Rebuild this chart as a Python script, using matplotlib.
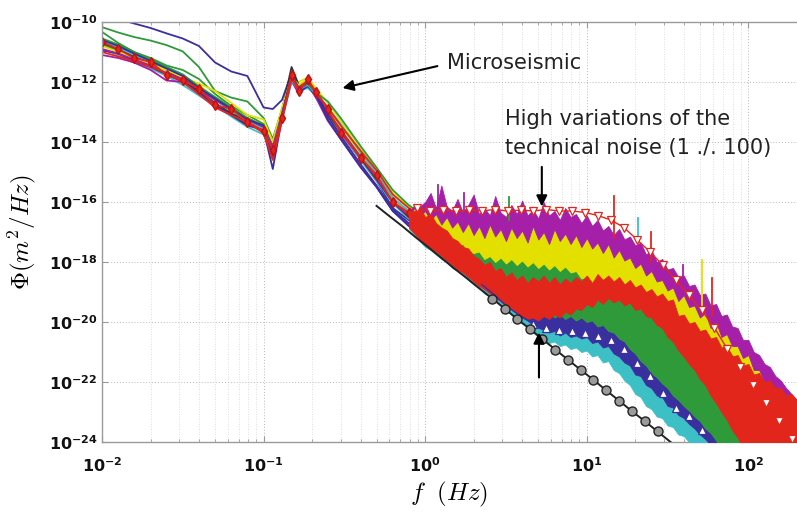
import numpy as np
import matplotlib
matplotlib.use("Agg")
import matplotlib.pyplot as plt

# ---- colours (old matlab line order, as they look in the scan)
C_IND = "#3a2f9e"
C_GRN = "#2e9a3a"
C_RED = "#e3261c"
C_CYN = "#3dbfc6"
C_MAG = "#a51fa8"
C_YEL = "#e3e000"
C_BLK = "#333333"

# ---- low frequency bundle, log10(PSD)
f_lo = [0.010, 0.0126, 0.0158, 0.020, 0.0251, 0.0316, 0.0398, 0.0501, 0.0631, 0.0794,
        0.100, 0.114, 0.130, 0.149, 0.165, 0.188, 0.210, 0.250, 0.300, 0.400,
        0.500, 0.630, 0.790, 1.000]
lo_indigo_top = [-9.7, -9.9, -10.05, -10.2, -10.38, -10.55, -10.8, -11.35, -11.65, -11.8,
                 -12.85, -12.9, -12.6, -11.7, -12.1, -12.0, -12.5, -13.1, -13.7, -14.6,
                 -15.3, -16.2, -16.6, -17.0]
lo_green_a = [-10.17, -10.35, -10.5, -10.62, -10.77, -10.98, -11.5, -12.3, -12.52, -12.65,
              -13.2, -13.9, -12.9, -11.9, -12.3, -12.1, -12.4, -13.0, -13.5, -14.4,
              -15.1, -15.9, -16.3, -16.6]
lo_green_b = [-10.33, -10.7, -11.0, -11.2, -11.45, -11.6, -11.9, -12.4, -12.8, -13.1,
              -13.4, -14.1, -13.0, -11.8, -12.25, -12.1, -12.4, -13.05, -13.65, -14.5,
              -15.2, -16.0, -16.5, -16.85]
lo_red_mk = [-10.67, -10.9, -11.2, -11.33, -11.77, -11.93, -12.23, -12.77, -12.9, -13.33,
             -13.63, -14.27, -13.2, -11.77, -12.3, -11.9, -12.33, -12.9, -13.7, -14.53,
             -15.1, -16.0, -16.35, -16.8]
lo_yellow_a = [-10.6, -10.85, -11.05, -11.3, -11.5, -11.8, -12.1, -12.55, -12.85, -13.2,
               -13.45, -14.0, -12.9, -11.9, -12.0, -11.85, -12.2, -12.7, -13.3, -14.2,
               -14.9, -15.7, -16.15, -16.5]
lo_cyan_a = [-10.9, -11.1, -11.35, -11.55, -11.8, -12.1, -12.45, -12.8, -13.15, -13.5,
             -13.75, -14.55, -13.25, -12.0, -12.3, -12.2, -12.45, -13.1, -13.7, -14.6,
             -15.3, -16.05, -16.55, -16.9]
lo_mag_a = [-11.1, -11.2, -11.35, -11.6, -11.95, -12.0, -12.4, -12.8, -13.1, -13.4,
            -13.6, -14.3, -13.2, -11.95, -12.4, -12.1, -12.5, -13.3, -13.9, -14.85,
            -15.5, -16.3, -16.75, -17.0]
lo_green_c = [-10.75, -10.95, -11.1, -11.35, -11.55, -11.85, -12.25, -12.6, -12.95, -13.35,
              -13.4, -14.2, -13.0, -11.8, -12.15, -12.05, -12.3, -12.95, -13.55, -14.5,
              -15.15, -15.95, -16.4, -16.75]
lo_black = [-10.7, -10.9, -11.15, -11.4, -11.6, -11.95, -12.3, -12.7, -13.05, -13.3,
            -13.5, -14.35, -12.95, -11.5, -12.1, -12.05, -12.4, -13.05, -13.65, -14.55,
            -15.25, -16.0, -16.5, -16.85]
lo_indigo_b = [-10.95, -11.05, -11.3, -11.5, -11.75, -12.0, -12.35, -12.75, -13.1, -13.45,
               -13.6, -14.9, -13.2, -11.7, -12.3, -12.15, -12.4, -13.25, -13.9, -14.85,
               -15.5, -16.3, -16.8, -17.1]
lo_red_b = [-11.0, -11.15, -11.3, -11.5, -11.7, -12.0, -12.4, -12.85, -13.1, -13.35,
            -13.7, -14.6, -13.3, -11.9, -12.2, -11.95, -12.35, -12.85, -13.45, -14.3,
            -14.95, -15.75, -16.2, -16.55]
lo_yellow_b = [-10.8, -11.0, -11.2, -11.4, -11.6, -11.85, -12.05, -12.3, -12.7, -13.1,
               -13.25, -14.0, -12.85, -11.85, -12.1, -11.9, -12.25, -12.9, -13.5, -14.45,
               -15.15, -15.95, -16.35, -16.7]
lo_cyan_b = [-10.65, -10.85, -11.1, -11.3, -11.5, -11.75, -12.2, -12.6, -12.95, -13.3,
             -13.55, -14.45, -13.15, -11.95, -12.25, -12.1, -12.4, -12.85, -13.4, -14.35,
             -15.05, -15.85, -16.3, -16.7]
lo_mag_b = [-10.9, -11.05, -11.25, -11.45, -11.7, -11.9, -12.25, -12.6, -12.9, -13.25,
            -13.5, -14.15, -13.05, -11.9, -12.25, -12.05, -12.35, -13.0, -13.6, -14.5,
            -15.2, -16.0, -16.45, -16.8]
lo_green_d = [-10.55, -10.75, -11.0, -11.25, -11.5, -11.75, -12.15, -12.5, -12.85, -13.2,
              -13.45, -14.4, -13.05, -11.85, -12.2, -12.05, -12.35, -12.65, -13.2, -14.15,
              -14.85, -15.6, -16.1, -16.5]
lo_indigo_c = [-10.6, -10.8, -11.05, -11.3, -11.55, -11.8, -12.2, -12.55, -12.9, -13.25,
               -13.45, -14.5, -13.1, -11.75, -12.2, -12.0, -12.3, -13.15, -13.8, -14.75,
               -15.45, -16.25, -16.7, -17.05]

# ---- high frequency part: envelopes of the dense spectra (log10 PSD)
f_hi = [0.794, 0.858, 0.926, 1.0, 1.08, 1.166, 1.259, 1.359, 1.468, 1.585,
        1.711, 1.848, 1.995, 2.154, 2.326, 2.512, 2.712, 2.929, 3.162, 3.415,
        3.687, 3.981, 4.299, 4.642, 5.012, 5.412, 5.843, 6.31, 6.813, 7.356,
        7.943, 8.577, 9.261, 10.0, 10.8, 11.66, 12.59, 13.59, 14.68, 15.85,
        17.11, 18.48, 19.95, 21.54, 23.26, 25.12, 27.12, 29.29, 31.62, 34.15,
        36.87, 39.81, 42.99, 46.42, 50.12, 54.12, 58.43, 63.1, 68.13, 73.56,
        79.43, 85.77, 92.61, 100.0, 108.0, 116.6, 125.9, 135.9, 146.8, 158.5,
        171.1, 184.8, 199.5]
bot_cyan = [-16.9, -17.1, -17.3, -17.5, -17.6, -17.75, -17.9, -18.0, -18.2, -18.3,
            -18.45, -18.6, -18.75, -18.85, -19.05, -19.15, -19.3, -19.45, -19.6, -19.75,
            -19.85, -20.05, -20.2, -20.35, -20.5, -20.6, -20.7, -20.65, -20.8, -20.75,
            -20.9, -20.85, -21.0, -20.95, -21.15, -21.1, -21.35, -21.3, -21.6, -21.7,
            -21.95, -22.1, -22.4, -22.5, -22.8, -22.9, -23.15, -23.2, -23.45, -23.5,
            -23.75, -23.8, -24.0, -24.1, -24.3, -24.5, -24.5, -24.5, -24.5, -24.5,
            -24.5, -24.5, -24.5, -24.5, -24.5, -24.5, -24.5, -24.5, -24.5, -24.5,
            -24.5, -24.5, -24.5]
top_cyan = [-16.8, -17.0, -17.2, -17.35, -17.5, -17.6, -17.75, -17.9, -18.05, -18.15,
            -18.3, -18.45, -18.6, -18.7, -18.9, -19.0, -19.15, -19.3, -19.45, -19.55,
            -19.7, -19.85, -19.95, -20.1, -20.2, -20.25, -20.35, -20.3, -20.45, -20.35,
            -20.5, -20.45, -20.55, -20.5, -20.7, -20.65, -20.85, -20.8, -21.05, -21.15,
            -21.35, -21.45, -21.75, -21.8, -22.1, -22.2, -22.45, -22.5, -22.8, -22.85,
            -23.1, -23.2, -23.4, -23.55, -23.75, -23.9, -24.1, -24.5, -24.5, -24.5,
            -24.5, -24.5, -24.5, -24.5, -24.5, -24.5, -24.5, -24.5, -24.5, -24.5,
            -24.5, -24.5, -24.5]
top_blue = [-16.7, -16.9, -17.05, -17.2, -17.3, -17.45, -17.55, -17.7, -17.85, -17.95,
            -18.1, -18.2, -18.35, -18.45, -18.6, -18.7, -18.85, -18.95, -19.1, -19.2,
            -19.35, -19.45, -19.55, -19.7, -19.75, -19.8, -19.7, -19.85, -19.75, -19.9,
            -19.8, -19.95, -19.85, -20.0, -19.95, -20.15, -20.1, -20.3, -20.35, -20.55,
            -20.65, -20.9, -21.05, -21.3, -21.45, -21.7, -21.85, -22.05, -22.2, -22.45,
            -22.6, -22.8, -22.95, -23.15, -23.3, -23.55, -23.7, -23.95, -24.2, -24.5,
            -24.5, -24.5, -24.5, -24.5, -24.5, -24.5, -24.5, -24.5, -24.5, -24.5,
            -24.5, -24.5, -24.5]
top_green = [-16.55, -16.5, -16.55, -16.75, -16.8, -17.0, -17.1, -17.2, -17.3, -17.45,
             -17.4, -17.65, -17.7, -17.65, -17.9, -17.8, -18.0, -17.85, -18.05, -17.9,
             -18.1, -17.95, -18.15, -18.0, -18.2, -18.05, -18.25, -18.1, -18.3, -18.15,
             -18.35, -18.3, -18.55, -18.5, -18.75, -18.7, -18.95, -18.85, -19.1, -19.05,
             -19.25, -19.3, -19.45, -19.55, -19.7, -19.8, -19.95, -20.1, -20.3, -20.5,
             -20.75, -21.0, -21.2, -21.45, -21.7, -21.9, -22.2, -22.4, -22.7, -22.95,
             -23.2, -23.5, -23.75, -24.0, -24.5, -24.5, -24.5, -24.5, -24.5, -24.5,
             -24.5, -24.5, -24.5]
top_yellow = [-16.45, -16.2, -16.45, -16.3, -16.6, -16.4, -16.75, -16.5, -16.85, -16.65,
              -17.0, -16.7, -17.1, -16.8, -17.2, -16.75, -17.15, -16.9, -17.3, -16.85,
              -17.2, -16.95, -17.35, -16.8, -17.25, -17.0, -17.4, -16.9, -17.3, -17.05,
              -17.4, -17.1, -17.5, -17.2, -17.55, -17.35, -17.7, -17.4, -17.85, -17.6,
              -17.95, -17.85, -18.2, -18.05, -18.45, -18.3, -18.65, -18.6, -18.95, -18.85,
              -19.3, -19.1, -19.5, -19.45, -19.85, -19.7, -20.2, -20.0, -20.5, -20.4,
              -20.8, -20.8, -21.2, -21.1, -21.6, -21.6, -22.0, -22.1, -22.4, -22.5,
              -22.9, -22.9, -23.3]
top_mag = [-16.35, -16.1, -16.15, -16.0, -15.7, -16.2, -15.45, -16.15, -16.3, -15.9,
           -16.35, -16.1, -15.75, -16.4, -16.2, -16.45, -15.8, -16.35, -16.5, -16.1,
           -16.4, -15.95, -16.45, -16.25, -16.55, -16.0, -16.45, -16.3, -16.6, -16.2,
           -16.5, -16.4, -16.7, -16.45, -16.8, -16.6, -16.95, -16.8, -17.1, -16.9,
           -17.25, -17.15, -17.45, -17.35, -17.75, -17.6, -18.0, -17.9, -18.25, -18.2,
           -18.5, -18.45, -18.8, -18.75, -19.1, -19.05, -19.45, -19.4, -19.8, -19.75,
           -20.15, -20.2, -20.6, -20.6, -21.0, -21.1, -21.4, -21.5, -21.8, -21.95,
           -22.2, -22.4, -22.6]
bot_red = [-16.85, -17.05, -17.25, -17.4, -17.55, -17.65, -17.8, -17.95, -18.1, -18.25,
           -18.35, -18.5, -18.65, -18.8, -18.9, -19.05, -19.2, -19.3, -19.45, -19.55,
           -19.7, -19.8, -19.9, -19.85, -19.95, -19.8, -19.9, -19.75, -19.85, -19.65,
           -19.75, -19.55, -19.6, -19.4, -19.5, -19.25, -19.4, -19.2, -19.35, -19.25,
           -19.45, -19.35, -19.6, -19.55, -19.8, -19.85, -20.1, -20.2, -20.5, -20.65,
           -20.95, -21.15, -21.4, -21.6, -21.9, -22.1, -22.45, -22.7, -23.0, -23.25,
           -23.6, -23.85, -24.2, -24.5, -24.5, -24.5, -24.5, -24.5, -24.5, -24.5,
           -24.5, -24.5, -24.5]
top_red = [-16.3, -16.3, -16.2, -16.5, -16.4, -16.7, -16.85, -16.95, -17.2, -17.3,
           -17.5, -17.55, -17.8, -17.9, -18.1, -18.0, -18.3, -18.2, -18.5, -18.35,
           -18.6, -18.45, -18.7, -18.5, -18.65, -18.45, -18.7, -18.5, -18.75, -18.55,
           -18.7, -18.5, -18.65, -18.45, -18.7, -18.4, -18.6, -18.45, -18.65, -18.5,
           -18.75, -18.6, -18.85, -18.75, -19.0, -18.9, -19.15, -19.05, -19.3, -19.25,
           -19.8, -19.75, -20.05, -20.0, -20.3, -20.25, -20.55, -20.5, -20.85, -20.8,
           -21.15, -21.1, -21.45, -21.4, -21.75, -21.7, -22.0, -21.95, -22.2, -22.2,
           -22.45, -22.4, -22.6]

# single spikes sticking out of the dense band
spike_f = [1.2, 1.75, 3.3, 14.7, 20.9, 25.1, 39.6, 51.3, 59.6]
spike_top = [-15.43, -15.7, -15.83, -15.8, -16.53, -17.0, -18.1, -17.93, -18.53]
spike_bot = [-16.3, -16.6, -16.6, -17.2, -17.3, -18.0, -19.0, -19.5, -19.8]
spike_col = [C_MAG, C_MAG, C_GRN, C_RED, C_CYN, C_RED, C_MAG, C_YEL, C_RED]

# red line with down triangles (upper envelope)
f_tri = [0.89, 1.07, 1.29, 1.55, 1.86, 2.24, 2.69, 3.24, 3.89, 4.68,
         5.62, 6.76, 8.13, 9.77, 11.7, 14.1, 17.0, 20.4, 24.5, 29.5,
         35.5, 42.7, 51.3, 61.7, 74.1, 89.1, 107, 129, 155, 186]
red_tri = [-16.2, -16.3, -16.25, -16.3, -16.27, -16.3, -16.25, -16.3, -16.27, -16.3,
           -16.25, -16.3, -16.3, -16.35, -16.45, -16.6, -16.85, -17.25, -17.65, -18.1,
           -18.6, -19.1, -19.6, -20.2, -20.9, -21.5, -22.1, -22.7, -23.3, -23.9]
# blue line with up triangles (lower envelope)
f_btri = [2.24, 2.69, 3.24, 3.89, 4.68, 5.62, 6.76, 8.13, 9.77, 11.7,
          14.1, 17.0, 20.4, 24.5, 29.5, 35.5, 42.7, 51.3, 61.7]
blue_tri = [-18.75, -19.1, -19.5, -19.8, -20.05, -20.2, -20.25, -20.3, -20.35, -20.45,
            -20.6, -20.9, -21.35, -21.8, -22.35, -22.85, -23.15, -23.6, -24.1]
# black reference line with circles
f_ref = [0.5, 0.6, 0.72, 0.87, 1.04, 1.25, 1.5, 1.8, 2.15, 2.6,
         3.1, 3.7, 4.45, 5.3, 6.4, 7.7, 9.2, 11.0, 13.2, 15.9,
         19.0, 22.8, 27.4, 33.0]
ref_line = [-16.13, -16.47, -16.8, -17.17, -17.5, -17.85, -18.2, -18.53, -18.87, -19.22,
            -19.55, -19.9, -20.23, -20.57, -20.92, -21.27, -21.6, -21.93, -22.28, -22.63,
            -22.97, -23.3, -23.65, -24.0]

yticks = [-24, -22, -20, -18, -16, -14, -12, -10]
xticks = [-2, -1, 0, 1, 2]


def p(v):
    return np.power(10.0, np.asarray(v, dtype=float))


fig = plt.figure(figsize=(7.97, 5.13), dpi=100)
ax = fig.add_axes([102 / 797, 71 / 513, 695 / 797, 420 / 513])
ax.set_xscale("log")
ax.set_yscale("log")
ax.set_xlim(0.01, 200)
ax.set_ylim(1e-24, 1e-10)

# grid like matlab "grid on"
ax.grid(True, which="major", axis="both", ls=(0, (1, 2)), color="#b8b8b8", lw=0.7)
ax.grid(True, which="minor", axis="x", ls=(0, (1, 2)), color="#d4d4d4", lw=0.6)
ax.set_axisbelow(True)

# low frequency bundle
lo_curves = [
    (lo_green_a, C_GRN), (lo_green_b, C_GRN), (lo_indigo_top, C_IND),
    (lo_yellow_a, C_YEL), (lo_cyan_a, C_CYN), (lo_mag_a, C_MAG),
    (lo_green_c, C_GRN), (lo_black, C_BLK), (lo_indigo_b, C_IND),
    (lo_yellow_b, C_YEL), (lo_cyan_b, C_CYN), (lo_mag_b, C_MAG),
    (lo_green_d, C_GRN), (lo_indigo_c, C_IND), (lo_red_b, C_RED),
]
for vals, col in lo_curves:
    ax.plot(f_lo, p(vals), color=col, lw=1.3, zorder=2)
ax.plot(f_lo, p(lo_red_mk), color=C_RED, lw=1.3, marker="d", ms=5,
        mfc=C_RED, mec="#c01010", zorder=2.5)

# dense high frequency spectra drawn as stacked bands
bands = [
    (bot_cyan, top_cyan, C_CYN),
    (top_cyan, top_blue, C_IND),
    (top_blue, top_green, C_GRN),
    (top_green, top_yellow, C_YEL),
    (top_yellow, top_mag, C_MAG),
    (bot_red, top_red, C_RED),
]
for lo, hi, col in bands:
    ax.fill_between(f_hi, p(lo), p(hi), color=col, lw=0.6, edgecolor=col, zorder=3)

for fs, t, b, c in zip(spike_f, spike_top, spike_bot, spike_col):
    ax.plot([fs, fs], p([b, t]), color=c, lw=1.3, zorder=3.2)

ax.plot(f_tri, p(red_tri), color=C_RED, lw=1.0, marker="v", ms=5.5,
        mfc="white", mec=C_RED, mew=0.9, zorder=4)
ax.plot(f_btri, p(blue_tri), color=C_IND, lw=1.0, zorder=4)
ax.plot(f_btri[4:], p(blue_tri[4:]), ls="none", marker="^", ms=5.5,
        mfc="white", mec=C_IND, mew=0.9, zorder=4)
ax.plot(f_ref, p(ref_line), color="#222222", lw=1.4, zorder=5)
ax.plot(f_ref[9:-1], p(ref_line[9:-1]), ls="none", marker="o", ms=6.5,
        mfc="#9a9a9a", mec="#222222", mew=1.0, zorder=5)

# annotations
arr = dict(arrowstyle="-|>", color="black", lw=1.5, mutation_scale=16,
           shrinkA=0, shrinkB=0)
ax.annotate("", xy=(0.308, p(-12.2)), xytext=(1.19, p(-11.47)), arrowprops=arr, zorder=6)
ax.text(1.37, p(-11.37), "Microseismic", fontsize=15, ha="left", va="center", color="#222222")
ax.text(3.12, p(-13.72), "High variations of the\ntechnical noise (1 ./. 100)",
        fontsize=15, ha="left", va="center", color="#222222", linespacing=1.55)
ax.annotate("", xy=(5.27, p(-16.15)), xytext=(5.27, p(-14.83)), arrowprops=arr, zorder=6)
ax.annotate("", xy=(5.06, p(-20.35)), xytext=(5.06, p(-21.85)), arrowprops=arr, zorder=6)

# axes cosmetics
for side in ("left", "bottom", "top"):
    ax.spines[side].set_color("#9a9a9a")
    ax.spines[side].set_linewidth(1.0)
ax.spines["right"].set_visible(False)
ax.tick_params(which="both", direction="in", colors="#9a9a9a", top=True, right=False)
ax.tick_params(which="major", length=4)
ax.tick_params(which="minor", length=2.5)
ax.yaxis.set_minor_locator(matplotlib.ticker.NullLocator())
ax.set_yticks(p(yticks))
ax.set_yticklabels([r"$\mathbf{10^{%d}}$" % e for e in yticks])
ax.set_xticks(p(xticks))
ax.set_xticklabels([r"$\mathbf{10^{%d}}$" % e for e in xticks])
for lab in ax.get_yticklabels() + ax.get_xticklabels():
    lab.set_color("#111111")
    lab.set_fontsize(11.5)
ax.tick_params(axis="y", pad=3)
ax.tick_params(axis="x", pad=10)

ax.set_ylabel(r"$\Phi(m^2/Hz)$", fontsize=18, math_fontfamily="cm", labelpad=8)
ax.set_xlabel(r"$f\ \ (Hz)$", fontsize=18, math_fontfamily="cm", labelpad=4)

fig.savefig("out.png", dpi=100)
